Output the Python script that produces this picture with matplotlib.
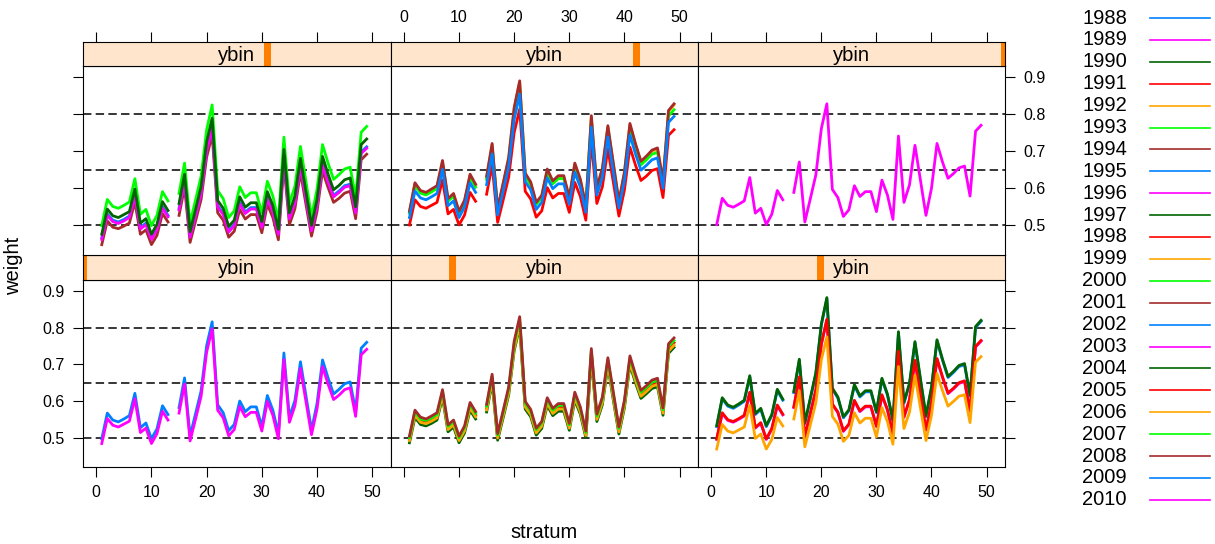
import numpy as np
import matplotlib
matplotlib.use('Agg')
import matplotlib.pyplot as plt
from matplotlib.patches import Rectangle
from matplotlib.lines import Line2D

plt.rcParams['font.family'] = ['Liberation Sans', 'DejaVu Sans']

# stratum 14 has no data
strata = [1, 2, 3, 4, 5, 6, 7, 8, 9, 10, 11, 12, 13,
          15, 16, 17, 18, 19, 20, 21, 22, 23, 24, 25, 26, 27, 28, 29, 30, 31, 32,
          33, 34, 35, 36, 37, 38, 39, 40, 41, 42, 43, 44, 45, 46, 47, 48, 49]

w1988 = [.497, .567, .548, .543, .551, .560, .621, .527, .540, .497, .524, .587, .563,
         .582, .663, .504, .566, .628, .751, .816, .590, .568, .519, .536, .600, .571, .584, .584, .531, .615, .575, .511, .731,
         .556, .602, .707, .614, .521, .593, .712, .663, .619, .632, .647, .652, .572, .744, .760]
w1989 = [.484, .552, .534, .529, .537, .545, .606, .514, .526, .484, .511, .572, .548,
         .567, .646, .491, .551, .613, .733, .797, .575, .554, .505, .522, .585, .557, .569, .569, .518, .599, .561, .497, .713,
         .542, .587, .689, .598, .508, .578, .694, .646, .604, .616, .631, .636, .558, .726, .741]
w1990 = [.486, .555, .536, .532, .539, .548, .609, .516, .529, .486, .513, .575, .551,
         .570, .650, .493, .554, .616, .737, .802, .578, .557, .507, .525, .588, .560, .572, .572, .520, .602, .564, .500, .718,
         .544, .590, .694, .601, .510, .581, .698, .650, .607, .620, .634, .639, .561, .730, .746]
w1991 = [.496, .566, .547, .542, .550, .559, .620, .526, .539, .496, .523, .586, .562,
         .581, .662, .503, .565, .627, .750, .815, .589, .567, .518, .535, .599, .570, .583, .583, .530, .614, .574, .510, .730,
         .555, .601, .706, .613, .520, .592, .711, .662, .618, .631, .646, .651, .571, .743, .759]
w1992 = [.492, .561, .542, .538, .545, .554, .615, .522, .535, .492, .519, .581, .557,
         .576, .656, .499, .560, .622, .743, .808, .584, .563, .513, .531, .594, .566, .578, .578, .526, .608, .570, .506, .724,
         .550, .596, .700, .607, .516, .587, .704, .656, .613, .626, .640, .645, .567, .736, .752]
w1993 = [.500, .570, .551, .547, .554, .563, .626, .531, .544, .500, .528, .591, .566,
         .586, .667, .507, .569, .633, .756, .823, .594, .572, .522, .540, .604, .575, .588, .588, .535, .619, .579, .514, .737,
         .559, .606, .712, .618, .525, .597, .717, .667, .624, .637, .651, .656, .576, .749, .765]
w1994 = [.504, .575, .556, .551, .559, .568, .631, .535, .548, .504, .532, .596, .571,
         .591, .673, .511, .574, .638, .763, .830, .599, .577, .526, .544, .609, .580, .593, .593, .539, .624, .584, .518, .743,
         .564, .611, .718, .623, .529, .602, .723, .673, .629, .642, .657, .662, .581, .756, .772]
w1995 = [.530, .606, .586, .580, .589, .599, .666, .563, .577, .530, .560, .629, .602,
         .623, .711, .538, .605, .674, .807, .879, .632, .608, .554, .573, .642, .611, .625, .625, .568, .659, .616, .545, .786,
         .594, .645, .759, .657, .557, .635, .764, .711, .664, .678, .694, .699, .613, .800, .817]
w1996 = [.495, .566, .547, .542, .550, .559, .622, .526, .539, .495, .523, .587, .562,
         .582, .664, .502, .565, .629, .754, .821, .590, .568, .517, .535, .600, .571, .584, .584, .530, .615, .575, .509, .734,
         .555, .602, .709, .614, .520, .593, .714, .664, .620, .633, .648, .653, .572, .747, .763]
w1997 = [.533, .609, .589, .583, .592, .602, .669, .566, .580, .533, .563, .632, .605,
         .626, .714, .541, .608, .677, .810, .882, .635, .611, .557, .576, .645, .614, .628, .628, .571, .662, .619, .548, .789,
         .597, .648, .762, .660, .560, .638, .767, .714, .667, .681, .697, .702, .616, .803, .820]
w1998 = [.497, .568, .549, .544, .552, .561, .624, .528, .541, .497, .525, .589, .564,
         .584, .666, .504, .567, .631, .756, .823, .592, .570, .519, .537, .602, .573, .586, .586, .532, .617, .577, .511, .736,
         .557, .604, .711, .616, .522, .595, .716, .666, .622, .635, .650, .655, .574, .749, .765]
w1999 = [.469, .536, .518, .513, .521, .529, .588, .498, .510, .469, .495, .555, .532,
         .551, .628, .475, .535, .595, .712, .775, .558, .537, .490, .506, .568, .540, .553, .553, .502, .582, .544, .482, .694,
         .525, .569, .670, .581, .492, .561, .675, .628, .586, .599, .613, .617, .541, .706, .721]
w2000 = [.499, .570, .551, .546, .554, .563, .626, .530, .543, .499, .527, .591, .566,
         .586, .668, .506, .569, .633, .758, .825, .594, .572, .521, .539, .604, .575, .588, .588, .534, .619, .579, .513, .738,
         .559, .606, .713, .618, .524, .597, .718, .668, .624, .637, .652, .657, .576, .751, .767]
w2001 = [.448, .512, .495, .491, .498, .506, .563, .476, .488, .448, .473, .532, .509,
         .527, .602, .454, .512, .570, .684, .744, .534, .514, .468, .484, .543, .517, .529, .529, .480, .557, .521, .461, .665,
         .502, .545, .643, .556, .471, .537, .647, .602, .562, .573, .587, .592, .518, .677, .692]
w2002 = [.466, .531, .514, .509, .516, .525, .583, .494, .506, .466, .492, .550, .527,
         .546, .621, .472, .530, .589, .704, .766, .553, .533, .486, .503, .562, .536, .548, .548, .498, .576, .539, .479, .686,
         .521, .564, .663, .575, .489, .556, .667, .621, .581, .593, .607, .611, .537, .698, .712]
w2003 = [.462, .527, .510, .505, .512, .521, .579, .490, .502, .462, .488, .546, .523,
         .542, .617, .468, .526, .585, .700, .762, .549, .529, .482, .499, .558, .532, .544, .544, .494, .572, .535, .475, .682,
         .517, .560, .659, .571, .485, .552, .663, .617, .577, .589, .603, .607, .533, .694, .708]
w2004 = [.476, .544, .526, .521, .529, .537, .598, .506, .518, .476, .503, .564, .540,
         .559, .638, .483, .543, .605, .725, .789, .567, .546, .497, .514, .577, .549, .561, .561, .510, .591, .553, .489, .705,
         .534, .579, .681, .590, .500, .570, .686, .638, .596, .608, .623, .628, .550, .718, .733]
w2005 = [.501, .569, .551, .546, .554, .562, .623, .531, .543, .501, .528, .589, .565,
         .584, .663, .508, .568, .630, .750, .814, .592, .571, .522, .539, .602, .574, .586, .586, .535, .616, .578, .514, .730,
         .559, .604, .706, .615, .525, .595, .711, .663, .621, .633, .648, .653, .575, .743, .758]
w2006 = [.535, .612, .591, .586, .595, .604, .672, .569, .583, .535, .565, .635, .608,
         .629, .718, .543, .611, .680, .815, .887, .638, .614, .559, .578, .649, .617, .631, .631, .573, .665, .622, .550, .793,
         .600, .651, .766, .664, .562, .641, .772, .718, .670, .684, .700, .706, .618, .807, .825]
w2007 = [.533, .607, .587, .582, .590, .600, .665, .565, .579, .533, .562, .629, .603,
         .624, .709, .540, .606, .672, .802, .872, .632, .609, .556, .575, .642, .612, .626, .626, .569, .658, .616, .548, .782,
         .595, .644, .756, .657, .559, .635, .761, .709, .663, .677, .692, .697, .613, .795, .812]
w2008 = [.538, .615, .594, .589, .598, .607, .675, .572, .586, .538, .568, .638, .611,
         .632, .721, .546, .614, .683, .818, .890, .641, .617, .562, .581, .652, .620, .634, .634, .576, .668, .625, .553, .796,
         .603, .654, .769, .667, .565, .644, .775, .721, .673, .687, .703, .709, .621, .810, .828]
w2009 = [.521, .593, .574, .569, .577, .586, .651, .553, .566, .521, .550, .615, .589,
         .610, .693, .528, .592, .658, .785, .854, .618, .596, .543, .562, .628, .599, .612, .612, .557, .643, .603, .535, .765,
         .582, .630, .739, .642, .547, .621, .744, .693, .649, .662, .677, .682, .600, .778, .794]
w2010 = [.502, .573, .554, .549, .557, .566, .629, .533, .546, .502, .530, .594, .569,
         .589, .671, .509, .572, .636, .761, .828, .597, .575, .524, .542, .607, .578, .591, .591, .537, .622, .582, .516, .741,
         .562, .609, .716, .621, .527, .600, .721, .671, .627, .640, .655, .660, .579, .754, .770]

years = list(range(1988, 2011))
weights = dict(zip(years, [w1988, w1989, w1990, w1991, w1992, w1993, w1994, w1995,
                           w1996, w1997, w1998, w1999, w2000, w2001, w2002, w2003,
                           w2004, w2005, w2006, w2007, w2008, w2009, w2010]))

# years in each ybin level (level 1 = bottom left panel)
ybin_years = [[1988, 1989],
              [1990, 1991, 1992, 1993, 1994],
              [1995, 1996, 1997, 1998, 1999],
              [2000, 2001, 2002, 2003, 2004],
              [2005, 2006, 2007, 2008, 2009],
              [2010]]

ref_lines = [0.5, 0.65, 0.8]
x_ticks = [0, 10, 20, 30, 40, 50]
y_ticks = [0.5, 0.6, 0.7, 0.8, 0.9]

palette = ['#0080ff', '#ff00ff', '#006400', '#ff0000', '#ffa500', '#00ff00', '#a52a2a']
year_col = {y: palette[i % len(palette)] for i, y in enumerate(years)}

W, H = 1215, 544
fig = plt.figure(figsize=(W / 100, H / 100), dpi=100)


def box(l, t, r, b):
    return [l / W, 1 - b / H, (r - l) / W, (b - t) / H]


col_edges = [(83, 390.7), (390.7, 698), (698, 1005)]
row_edges = {'top': ((42, 66), (66, 255)), 'bottom': ((255, 280), (280, 467))}
panel_pos = [('bottom', 0), ('bottom', 1), ('bottom', 2), ('top', 0), ('top', 1), ('top', 2)]

xlim = (-2.4, 53.35)
ylim = (0.42, 0.93)
tick_kw = dict(direction='out', length=7, width=0.8, labelsize=11.5, color='black')

xs = np.array(strata, dtype=float)
gap = np.where(np.diff(xs) > 1)[0] + 1
xs_plot = np.insert(xs, gap, np.nan)

nlev = len(ybin_years)
for lev, (row, col) in enumerate(panel_pos):
    (st, sb), (pt, pb) = row_edges[row]
    l, r = col_edges[col]

    ax = fig.add_axes(box(l, pt, r, pb))
    ax.set_xlim(*xlim)
    ax.set_ylim(*ylim)
    for v in ref_lines:
        ax.axhline(v, color='black', lw=1.1, ls=(0, (5.5, 2.8)), zorder=1)
    for yr in ybin_years[lev]:
        ys = np.insert(np.array(weights[yr], dtype=float), gap, np.nan)
        ax.plot(xs_plot, ys, color=year_col[yr], lw=2.0, zorder=2,
                solid_joinstyle='round')
    for s in ax.spines.values():
        s.set_linewidth(0.8)

    ax.set_xticks(x_ticks)
    ax.set_yticks(y_ticks)
    ax.tick_params(axis='x', bottom=(row == 'bottom'), top=False,
                   labelbottom=(row == 'bottom' and col != 1), labeltop=False,
                   pad=6, **tick_kw)
    ax.tick_params(axis='y', left=(col == 0), right=(col == 2),
                   labelleft=(row == 'bottom' and col == 0),
                   labelright=(row == 'top' and col == 2),
                   pad=6, **tick_kw)
    ax.set_yticklabels([f'{v:.1f}' for v in y_ticks])

    # strip
    sx = fig.add_axes(box(l, st, r, sb))
    sx.set_facecolor('#ffe5cc')
    sx.set_xlim(*xlim)
    sx.set_ylim(0, 1)
    sx.set_yticks([])
    for s in sx.spines.values():
        s.set_linewidth(0.8)
    sx.add_patch(Rectangle((lev / (nlev - 1) - 0.0115, 0), 0.023, 1,
                           transform=sx.transAxes, color='#ff7f00', lw=0,
                           clip_on=True))
    sx.text(0.5, 0.45, 'ybin', transform=sx.transAxes, ha='center', va='center',
            fontsize=14.5)
    sx.set_xticks(x_ticks)
    sx.tick_params(axis='x', bottom=False, labelbottom=False,
                   top=(row == 'top'), labeltop=(row == 'top' and col == 1),
                   pad=5, **tick_kw)

fig.text(14 / W, 1 - 266 / H, 'weight', rotation=90, ha='center', va='center',
         fontsize=14.5)
fig.text(544 / W, 1 - 533 / H, 'stratum', ha='center', va='center', fontsize=14.5)

# key
for i, yr in enumerate(years):
    fy = 1 - (18 + i * 21.9) / H
    fig.text(1082 / W, fy, str(yr), ha='left', va='center', fontsize=14.5)
    fig.add_artist(Line2D([1150 / W, 1210 / W], [fy, fy], transform=fig.transFigure,
                          color=year_col[yr], lw=1.2))

fig.savefig('out.png', dpi=100)
